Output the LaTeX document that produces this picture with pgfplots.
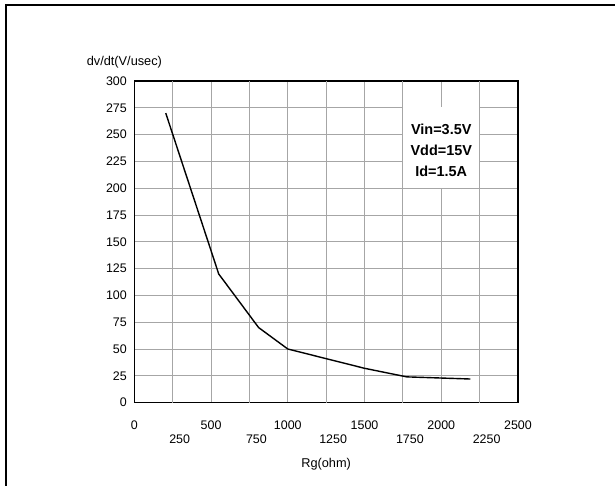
\documentclass[border=0pt]{standalone}
\usepackage{pgfplots}
\pgfplotsset{compat=1.18}
\usepackage{fontspec}
\setmainfont{Liberation Sans}

\begin{document}
\begin{tikzpicture}
\useasboundingbox (0,0) rectangle (615bp,486bp);
\fill[white] (0,0) rectangle (615bp,486bp);
\draw[line width=2.2bp] (6bp,-2bp) -- (6bp,481bp) -- (620bp,481bp);
\begin{axis}[
    at={(134.3bp,83.4bp)}, anchor=south west,
    scale only axis,
    width=383.7bp, height=321.6bp,
    xmin=0, xmax=2500, ymin=0, ymax=300,
    xtick={0,500,1000,1500,2000,2500},
    extra x ticks={250,750,1250,1750,2250},
    extra x tick style={grid=major, tick label style={yshift=-14bp, xshift=7bp}},
    ytick={0,25,...,300},
    major tick length=0pt,
    grid=major,
    major grid style={color=black!35, line width=0.9bp},
    axis line style={line width=1.1bp},
    ticklabel style={font=\fontsize{12.5}{14}\selectfont},
    xticklabel style={yshift=-15bp},
    yticklabel style={xshift=-4bp},
    /pgf/number format/assume math mode=true,
    /pgf/number format/set thousands separator={},
    clip=false,
]
\addplot[black, line width=1.4bp] coordinates {
    (205,270) (550,120) (810,70) (1000,50) (1500,32) (1775,24) (2190,22)
};
\fill[white] (axis cs:1750,200.5) rectangle (axis cs:2249,276);
\node[align=center, font=\fontsize{14.5}{21}\selectfont\bfseries] at (axis cs:2000,235.6)
    {Vin=3.5V\\Vdd=15V\\Id=1.5A};
\node[anchor=west, font=\fontsize{12.8}{14}\selectfont] at (rel axis cs:0,1) [xshift=-51bp, yshift=19bp] {dv/dt(V/usec)};
\node[font=\fontsize{12.8}{14}\selectfont] at (rel axis cs:0.5,0) [yshift=-62bp] {Rg(ohm)};
\end{axis}
\end{tikzpicture}
\end{document}
